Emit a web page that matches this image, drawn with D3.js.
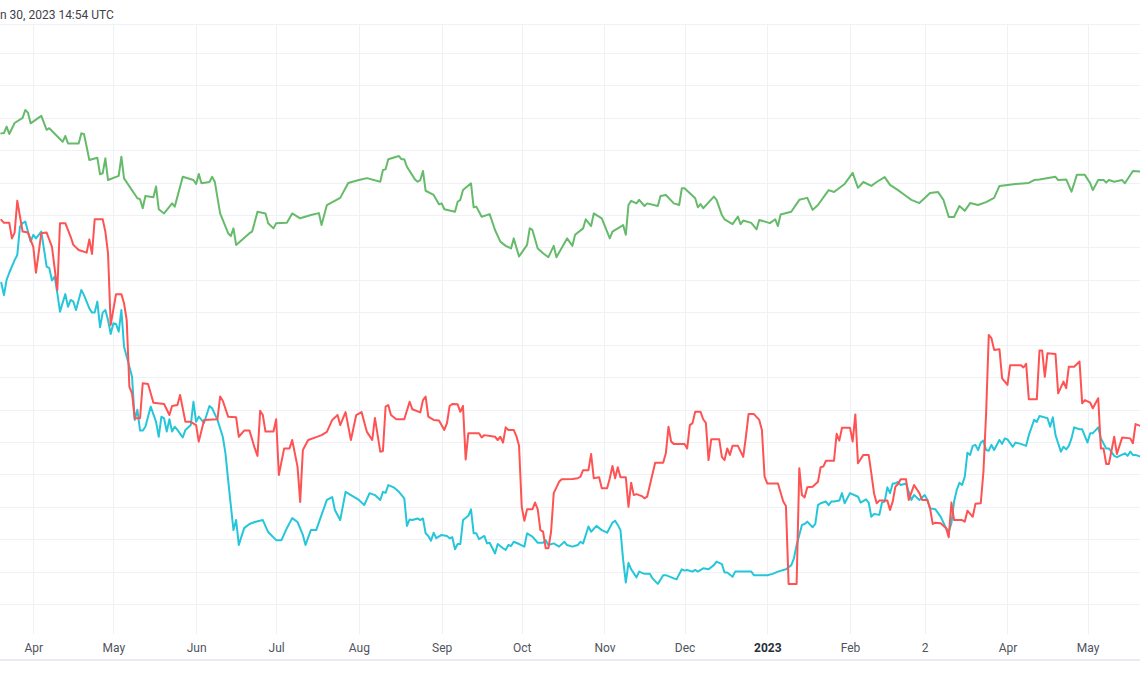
<!DOCTYPE html>
<html><head><meta charset="utf-8">
<script src="https://cdn.jsdelivr.net/npm/d3@7"></script>
<style>html,body{margin:0;padding:0;background:#fff;overflow:hidden}</style>
</head><body><svg id="c" width="1140" height="694"></svg>
<script>
const titleText = "n 30, 2023 14:54 UTC";
const startDay = Date.UTC(2022, 2, 20);
const tickDates = ["2022-04-01","2022-05-01","2022-06-01","2022-07-01","2022-08-01","2022-09-01","2022-10-01","2022-11-01","2022-12-01","2023-01-01","2023-02-01","2023-03-01","2023-04-01","2023-05-01"];
const tickLabels = ["Apr","May","Jun","Jul","Aug","Sep","Oct","Nov","Dec","2023","Feb","2","Apr","May"];
const boldLabels = ["2023"];
const gridValues = d3.range(0, 18);

const greenSeries = [[0,14.52],[1,14.53],[2,14.73],[3,14.50],[5,14.84],[8,15.00],[9,15.24],[10,15.16],[11,14.83],[15,15.06],[17,14.63],[18,14.68],[23,14.26],[24,14.44],[25,14.21],[29,14.21],[30,14.52],[31,14.50],[33,13.70],[36,13.77],[37,13.26],[38,13.29],[39,13.75],[40,13.08],[44,13.21],[45,13.80],[46,13.13],[51,12.52],[52,12.49],[53,12.21],[54,12.59],[57,12.55],[58,12.88],[59,12.18],[61,12.05],[64,12.36],[65,12.26],[68,13.18],[72,13.08],[73,12.96],[74,13.27],[75,12.98],[78,13.02],[79,13.18],[80,13.03],[82,12.05],[85,11.44],[86,11.35],[87,11.59],[88,11.08],[93,11.44],[94,11.49],[96,12.10],[99,12.05],[100,11.75],[102,11.59],[103,11.75],[107,11.76],[109,12.05],[112,11.90],[116,12.00],[119,12.06],[120,11.69],[122,12.31],[127,12.53],[130,12.99],[134,13.08],[137,13.14],[142,13.03],[143,13.39],[144,13.41],[145,13.72],[149,13.82],[150,13.72],[151,13.72],[152,13.49],[155,13.10],[156,13.03],[157,13.08],[158,13.36],[159,12.75],[162,12.62],[164,12.33],[165,12.36],[166,12.18],[170,12.10],[171,12.41],[172,12.47],[173,12.77],[176,12.98],[177,12.24],[178,12.26],[180,11.95],[183,12.03],[185,11.54],[187,11.18],[189,11.05],[191,10.97],[192,11.28],[194,10.72],[197,11.08],[198,11.59],[199,11.54],[201,10.97],[202,10.90],[203,10.82],[205,10.70],[207,11.05],[208,10.70],[212,11.28],[214,11.05],[215,11.39],[218,11.59],[219,11.87],[221,11.66],[222,12.05],[225,11.90],[228,11.28],[229,11.49],[233,11.69],[234,11.39],[235,12.31],[236,12.44],[238,12.36],[239,12.47],[241,12.28],[242,12.36],[246,12.28],[247,12.59],[249,12.62],[252,12.36],[254,12.31],[255,12.83],[256,12.83],[260,12.52],[261,12.24],[262,12.34],[263,12.21],[267,12.57],[268,12.47],[270,12.00],[271,11.87],[274,11.72],[276,11.95],[277,11.72],[278,11.83],[281,11.76],[283,11.56],[284,11.85],[288,11.75],[290,11.87],[291,11.66],[292,12.02],[296,12.10],[299,12.47],[302,12.53],[304,12.16],[306,12.31],[310,12.77],[312,12.71],[316,12.96],[319,13.30],[321,12.84],[323,13.02],[326,12.90],[328,13.02],[331,13.17],[333,12.93],[336,12.77],[339,12.59],[341,12.47],[344,12.37],[348,12.68],[351,12.71],[353,12.47],[355,11.94],[357,11.94],[359,12.28],[361,12.13],[363,12.37],[366,12.31],[369,12.40],[372,12.53],[374,12.90],[377,12.93],[380,12.96],[385,12.99],[387,13.08],[389,13.10],[395,13.18],[396,13.08],[399,13.10],[401,12.72],[403,13.24],[406,13.24],[408,12.98],[409,12.77],[411,13.08],[413,13.08],[414,13.00],[415,13.08],[417,13.03],[420,13.08],[421,12.98],[424,13.36],[427,13.34]];

const redSeries = [[0,11.85],[1,11.76],[3,11.76],[4,11.28],[5,11.46],[6,12.44],[8,11.49],[10,11.46],[12,11.02],[13,10.22],[15,11.44],[17,11.46],[19,11.02],[21,9.69],[22,11.75],[24,11.75],[26,11.33],[27,11.08],[29,10.92],[32,10.84],[33,11.25],[34,10.80],[35,11.87],[38,11.87],[39,11.49],[40,10.82],[41,8.61],[43,9.56],[45,9.56],[46,9.28],[47,8.76],[48,6.70],[49,6.50],[50,5.73],[52,5.73],[53,6.81],[55,6.79],[57,6.21],[61,6.17],[63,5.83],[64,6.11],[66,6.14],[67,6.45],[69,5.62],[71,5.62],[73,5.52],[74,5.01],[76,5.68],[81,5.70],[82,6.40],[83,6.27],[85,5.78],[88,5.76],[89,5.16],[91,5.35],[93,5.35],[95,4.80],[96,4.57],[97,5.96],[98,5.83],[99,5.32],[102,5.32],[103,5.70],[104,3.98],[106,4.80],[108,4.80],[109,5.06],[111,4.24],[112,3.15],[113,4.75],[115,5.06],[118,5.15],[120,5.21],[122,5.31],[124,5.68],[126,5.83],[127,5.52],[129,5.92],[131,5.06],[133,5.83],[135,5.92],[137,5.31],[139,5.06],[140,5.74],[142,4.70],[143,4.72],[144,6.09],[145,6.14],[146,5.83],[148,5.70],[151,5.70],[153,6.24],[154,6.01],[157,5.91],[158,6.29],[159,6.40],[160,5.78],[162,5.68],[164,5.66],[166,5.37],[167,5.58],[168,6.11],[169,6.17],[171,6.16],[172,5.93],[173,6.11],[174,4.46],[175,5.27],[179,5.27],[180,5.14],[181,5.21],[185,5.16],[186,5.06],[187,5.16],[188,4.98],[189,5.45],[190,5.37],[192,5.37],[193,5.18],[194,4.88],[195,3.00],[196,2.57],[197,2.92],[199,2.92],[200,3.13],[201,2.92],[202,2.28],[203,2.23],[204,1.72],[205,1.72],[206,2.23],[207,3.42],[209,3.77],[210,3.85],[214,3.86],[216,3.88],[217,3.93],[218,4.13],[220,4.13],[221,4.63],[222,3.88],[224,3.91],[225,3.57],[227,3.57],[228,3.88],[229,4.26],[230,3.88],[231,4.22],[232,3.91],[234,3.91],[235,3.00],[236,3.74],[237,3.36],[238,3.39],[240,3.33],[241,3.26],[242,3.31],[245,4.36],[248,4.36],[249,4.65],[250,5.47],[251,5.01],[252,4.94],[256,4.94],[257,4.80],[258,5.52],[259,5.58],[260,5.93],[262,5.93],[263,5.70],[264,5.59],[265,4.44],[266,5.08],[269,5.08],[270,4.54],[271,4.44],[272,4.80],[273,4.60],[274,4.88],[276,4.88],[278,4.54],[279,5.16],[280,5.86],[282,5.86],[284,5.68],[285,5.37],[286,3.93],[287,3.72],[291,3.72],[293,3.16],[294,3.02],[295,0.62],[298,0.62],[299,4.19],[300,3.36],[301,3.29],[302,3.60],[304,3.62],[306,3.77],[307,4.22],[308,4.24],[309,4.42],[312,4.42],[313,5.25],[314,5.04],[315,5.44],[318,5.44],[319,5.01],[320,5.85],[321,4.34],[323,4.60],[325,4.60],[326,4.03],[327,3.42],[328,3.11],[329,3.19],[332,3.19],[333,2.90],[334,3.16],[335,3.62],[336,3.70],[337,3.85],[339,3.85],[340,3.21],[342,3.67],[344,3.42],[345,3.21],[347,3.21],[348,2.95],[349,2.47],[350,2.51],[352,2.49],[354,2.34],[355,2.06],[356,3.13],[357,2.59],[360,2.59],[361,2.54],[362,2.88],[364,2.69],[365,3.09],[367,3.11],[368,4.08],[369,5.88],[370,8.30],[371,8.20],[372,7.84],[374,7.86],[375,6.96],[377,6.76],[378,7.37],[382,7.37],[383,7.30],[384,7.41],[385,6.32],[388,6.32],[389,7.82],[390,7.82],[391,7.01],[392,7.74],[395,7.71],[396,6.50],[398,6.86],[399,6.66],[400,7.32],[402,7.32],[404,7.48],[405,6.19],[406,6.29],[408,6.21],[409,6.04],[411,6.35],[412,4.80],[413,4.80],[414,4.32],[415,4.32],[417,5.16],[418,4.63],[420,5.14],[423,5.11],[424,4.96],[425,5.55],[427,5.49]];

const cyanSeries = [[0,9.91],[1,9.53],[2,10.00],[3,10.22],[5,10.61],[6,10.77],[7,11.64],[8,11.75],[9,11.80],[10,11.49],[11,11.18],[12,11.39],[13,11.28],[15,11.49],[17,10.41],[18,10.36],[19,9.98],[20,10.10],[21,9.59],[22,9.02],[24,9.56],[25,9.17],[26,9.38],[27,9.33],[28,9.07],[30,9.69],[31,9.53],[33,9.12],[34,8.99],[35,8.99],[36,9.33],[37,8.54],[38,8.99],[39,9.07],[40,8.76],[41,8.33],[42,8.66],[43,8.64],[44,8.40],[45,9.07],[46,7.94],[47,7.63],[49,7.01],[50,5.68],[51,5.99],[52,5.35],[53,5.35],[54,5.47],[56,6.09],[58,5.62],[59,5.16],[60,5.78],[61,5.73],[62,5.32],[63,5.70],[64,5.32],[65,5.47],[66,5.37],[68,5.14],[69,5.37],[71,5.52],[72,6.24],[73,5.62],[74,5.78],[76,5.59],[78,6.11],[79,6.04],[81,5.68],[83,5.16],[84,4.65],[85,3.83],[86,3.05],[87,2.28],[88,2.59],[89,1.82],[91,2.34],[93,2.47],[95,2.53],[98,2.59],[100,2.22],[103,1.97],[105,1.97],[107,2.34],[109,2.65],[111,2.53],[113,2.13],[114,1.82],[116,2.28],[118,2.28],[120,2.75],[122,3.21],[124,3.30],[125,2.90],[127,2.59],[129,3.46],[131,3.36],[134,3.21],[136,3.05],[138,3.42],[140,3.36],[142,3.21],[143,3.46],[144,3.43],[145,3.67],[147,3.60],[149,3.46],[151,3.26],[152,2.41],[153,2.61],[154,2.59],[156,2.64],[157,2.59],[158,2.64],[159,2.18],[160,2.10],[161,1.95],[162,2.20],[163,2.03],[165,2.13],[167,2.10],[168,2.03],[169,2.06],[170,1.69],[171,1.85],[172,1.85],[173,2.59],[175,2.72],[176,2.92],[177,2.18],[178,2.18],[179,2.00],[181,2.10],[182,1.87],[183,1.89],[185,1.56],[186,1.85],[188,1.72],[189,1.67],[190,1.82],[191,1.79],[192,1.92],[194,1.85],[196,1.77],[197,2.18],[199,2.08],[201,1.89],[203,1.89],[204,1.97],[205,1.82],[207,1.87],[209,1.77],[211,1.92],[212,1.82],[214,1.77],[216,1.82],[217,1.92],[218,1.87],[220,2.39],[221,2.23],[223,2.41],[225,2.28],[227,2.20],[229,2.51],[230,2.57],[231,2.44],[232,2.28],[233,1.36],[234,0.66],[235,1.27],[236,1.07],[238,0.82],[239,1.00],[241,0.93],[243,0.93],[244,0.79],[246,0.62],[248,0.89],[249,0.89],[252,0.79],[253,0.76],[255,1.07],[256,1.03],[257,1.05],[259,1.00],[260,1.05],[261,1.00],[263,1.10],[265,1.07],[267,1.20],[268,1.31],[270,1.23],[271,0.97],[272,0.97],[274,0.84],[275,1.00],[277,1.00],[281,1.00],[282,0.89],[287,0.89],[289,0.93],[291,1.00],[294,1.07],[296,1.20],[297,1.41],[298,1.82],[300,2.44],[301,2.47],[302,2.54],[304,2.37],[305,2.47],[306,3.05],[307,3.11],[309,3.16],[310,3.05],[311,3.16],[312,3.16],[314,3.19],[315,3.42],[316,3.11],[318,3.42],[321,3.31],[322,3.13],[324,3.23],[325,3.13],[326,2.69],[327,2.78],[329,2.75],[330,3.13],[331,3.16],[332,3.60],[333,3.42],[334,3.72],[335,3.72],[336,3.77],[337,3.67],[339,3.72],[341,3.21],[342,3.36],[344,3.21],[346,3.36],[347,3.21],[348,2.95],[350,2.92],[352,2.69],[354,2.34],[355,2.23],[356,2.49],[357,3.16],[358,3.52],[359,3.74],[360,3.67],[361,3.93],[362,4.67],[363,4.60],[364,4.88],[365,4.91],[366,4.75],[367,4.98],[368,5.04],[369,4.75],[370,4.73],[371,4.91],[372,4.75],[374,5.06],[375,4.94],[376,5.11],[377,5.08],[379,4.85],[380,4.98],[382,4.94],[384,4.88],[385,5.21],[387,5.68],[388,5.62],[389,5.80],[390,5.78],[392,5.73],[393,5.47],[394,5.76],[395,5.21],[396,4.96],[397,4.70],[398,4.85],[399,4.77],[400,4.88],[401,5.11],[402,5.45],[404,5.39],[405,5.39],[407,4.98],[408,5.27],[409,5.27],[411,5.45],[412,5.11],[414,4.80],[415,4.80],[417,4.57],[418,4.53],[419,4.57],[421,4.65],[422,4.57],[423,4.70],[424,4.60],[425,4.60],[427,4.54]];

const W = 1140, H = 694;
const DAY = 864e5;
const toDate = d => new Date(startDay + d * DAY);
const x = d3.scaleUtc().domain([toDate(-0.476), toDate(426.66)]).range([0, W]);
const y = d3.scaleLinear().domain([0, 17]).range([604, 53]);
const ticks = tickDates.map(s => new Date(s + "T00:00:00Z"));

const svg = d3.select("#c");
const font = "Roboto, 'Noto Sans', sans-serif";

// top separator
svg.append("rect").attr("x", 0).attr("y", 24).attr("width", W).attr("height", 1).attr("fill", "#f0f1f4");

// horizontal grid
svg.append("g").selectAll("line").data(gridValues).join("line")
  .attr("x1", 0).attr("x2", W)
  .attr("y1", d => Math.round(y(d)) + 0.5).attr("y2", d => Math.round(y(d)) + 0.5)
  .attr("stroke", "#f0f1f4").attr("stroke-width", 1);

// vertical grid
svg.append("g").selectAll("line").data(ticks).join("line")
  .attr("x1", d => Math.round(x(d)) + 0.5).attr("x2", d => Math.round(x(d)) + 0.5)
  .attr("y1", 25).attr("y2", 634)
  .attr("stroke", "#f0f1f4").attr("stroke-width", 1);

// title
svg.append("text").attr("x", 0).attr("y", 19).text(titleText)
  .attr("font-family", font).attr("font-size", 12).attr("fill", "#3f424c");

// series
const line = d3.line().x(d => x(toDate(d[0]))).y(d => y(d[1]));
svg.append("defs").append("clipPath").attr("id", "clip").append("rect")
  .attr("x", 0).attr("y", 25).attr("width", W).attr("height", 609);
const plot = svg.append("g").attr("clip-path", "url(#clip)");
[[greenSeries, "#66bb6a"], [cyanSeries, "#26c6da"], [redSeries, "#ff5252"]].forEach(([s, c]) => {
  plot.append("path").datum(s).attr("d", line).attr("fill", "none")
    .attr("stroke", c).attr("stroke-width", 2).attr("stroke-linejoin", "round").attr("stroke-linecap", "round");
});

// x axis
const axis = d3.axisBottom(x).tickValues(ticks).tickFormat((d, i) => tickLabels[i]).tickSize(0).tickPadding(3);
const ag = svg.append("g").attr("transform", "translate(0,640)").call(axis);
ag.select(".domain").remove();
ag.selectAll("text").attr("font-family", font).attr("font-size", 12).attr("fill", "#50535e")
  .attr("font-weight", d => null)
  .each(function(d, i) { if (boldLabels.includes(tickLabels[i])) d3.select(this).attr("font-weight", "bold").attr("fill", "#2a2e39"); });

// bottom border
svg.append("rect").attr("x", 0).attr("y", 659).attr("width", W).attr("height", 2).attr("fill", "#e9ebf0");
</script></body></html>
